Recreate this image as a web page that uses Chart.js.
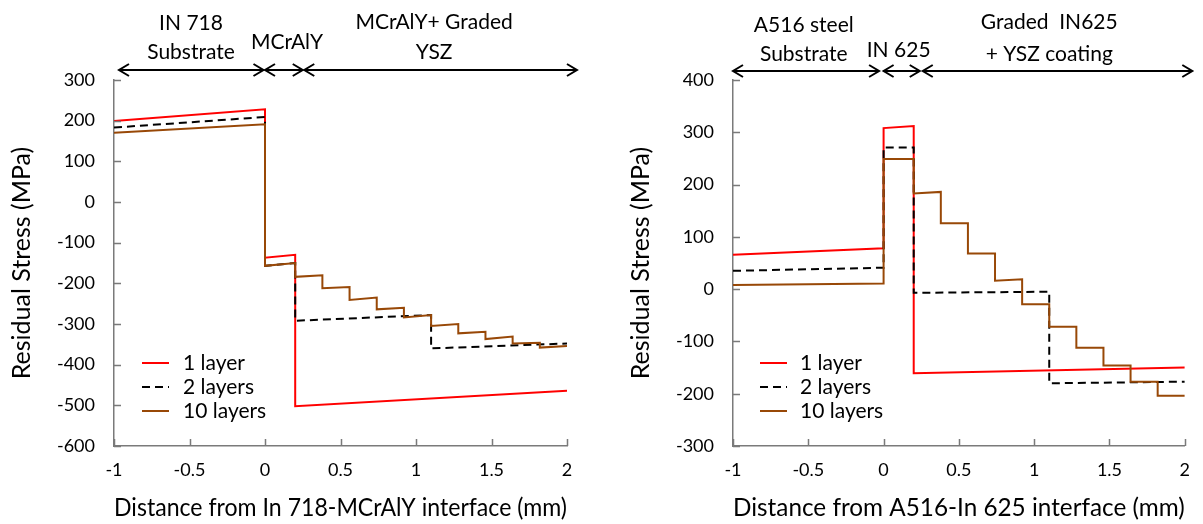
<!DOCTYPE html>
<html>
<head>
<meta charset="utf-8">
<script src="https://cdn.jsdelivr.net/npm/chart.js@4.4.1/dist/chart.umd.min.js"></script>
<style>
  body { margin: 0; background: #fff; }
  #wrap { position: relative; width: 1203px; height: 524px; }
  canvas { position: absolute; top: 0; }
</style>
</head>
<body>
<div id="wrap">
  <canvas id="left" width="600" height="524" style="left:0"></canvas>
  <canvas id="right" width="603" height="524" style="left:600px"></canvas>
</div>
<script>
// ---- data ----
const seriesNames = ['1 layer', '2 layers', '10 layers'];
const xTicks = [-1, -0.5, 0, 0.5, 1, 1.5, 2];
const leftYTicks = [-600, -500, -400, -300, -200, -100, 0, 100, 200, 300];
const rightYTicks = [-300, -200, -100, 0, 100, 200, 300, 400];

// IN 718 / MCrAlY / graded YSZ
const left1X = [-1, 0, 0, 0.2, 0.2, 2];
const left1Y = [199, 228, -137, -130, -502, -464];
const left2X = [-1, 0, 0, 0.2, 0.2, 1.1, 1.1, 2];
const left2Y = [183, 209, -157, -150, -292, -278, -360, -348];
const left10X = [-1, 0, 0, 0.2, 0.2, 0.38, 0.38, 0.56, 0.56, 0.74, 0.74, 0.92, 0.92, 1.1, 1.1, 1.28, 1.28, 1.46, 1.46, 1.64, 1.64, 1.82, 1.82, 2];
const left10Y = [170, 191, -157, -150, -184, -180, -212, -209, -241, -235, -264, -260, -284, -278, -305, -300, -323, -319, -337, -331, -348, -346, -358, -354];

// A516 / IN 625 / graded IN625 + YSZ
const right1X = [-1, 0, 0, 0.2, 0.2, 2];
const right1Y = [66, 78, 308, 312, -161, -150];
const right2X = [-1, 0, 0, 0.2, 0.2, 1.1, 1.1, 2];
const right2Y = [35, 41, 271, 271, -7, -5, -180, -177];
const right10X = [-1, 0, 0, 0.2, 0.2, 0.38, 0.38, 0.56, 0.56, 0.74, 0.74, 0.92, 0.92, 1.1, 1.1, 1.28, 1.28, 1.46, 1.46, 1.64, 1.64, 1.82, 1.82, 2];
const right10Y = [8, 11, 249, 249, 183, 186, 126, 126, 68, 68, 16, 19, -29, -29, -72, -72, -112, -112, -146, -146, -177, -177, -204, -204];

const FONT = 'Lato, "Open Sans", sans-serif';
const AXIS = '#7a7a7a';
const styles = [
  { color: '#ff0000', dash: [], order: 2 },
  { color: '#000000', dash: [8, 5], order: 1 },
  { color: '#984807', dash: [], order: 0 }
];

const pts = (xs, ys) => xs.map((v, i) => ({ x: v, y: ys[i] }));

function drawArrow(ctx, x1, x2, y) {
  const h = 10, w = 6;
  ctx.beginPath();
  ctx.moveTo(x1, y); ctx.lineTo(x2, y);
  ctx.moveTo(x1 + h, y - w); ctx.lineTo(x1, y); ctx.lineTo(x1 + h, y + w);
  ctx.moveTo(x2 - h, y - w); ctx.lineTo(x2, y); ctx.lineTo(x2 - h, y + w);
  ctx.stroke();
}

const decor = {
  id: 'decor',
  afterDraw(chart, args, opts) {
    const { ctx, chartArea: a, scales: { x, y } } = chart;
    ctx.save();
    // inside tick marks
    ctx.strokeStyle = AXIS; ctx.lineWidth = 1.5;
    ctx.beginPath();
    y.ticks.forEach(t => { const p = Math.round(y.getPixelForValue(t.value)) + 0.5; ctx.moveTo(a.left, p); ctx.lineTo(a.left + 7, p); });
    x.ticks.forEach(t => { const p = Math.round(x.getPixelForValue(t.value)) + 0.5; ctx.moveTo(p, a.bottom); ctx.lineTo(p, a.bottom - 7); });
    ctx.stroke();

    // region arrows + labels
    ctx.strokeStyle = '#000'; ctx.lineWidth = 2;
    opts.arrows.forEach(r => drawArrow(ctx, x.getPixelForValue(r[0]), x.getPixelForValue(r[1]), opts.arrowY));
    ctx.fillStyle = '#000';
    ctx.font = '21px ' + FONT;
    ctx.textAlign = 'center'; ctx.textBaseline = 'middle';
    opts.labels.forEach(l => ctx.fillText(l.text, x.getPixelForValue(l.x), l.y));

    // legend inside plot
    ctx.font = '21px ' + FONT;
    ctx.textAlign = 'left';
    seriesNames.forEach((name, i) => {
      const yy = opts.legendY + i * 24;
      ctx.strokeStyle = styles[i].color;
      ctx.setLineDash(styles[i].dash);
      ctx.lineWidth = 2;
      ctx.beginPath();
      ctx.moveTo(a.left + opts.legendLine[0], yy);
      ctx.lineTo(a.left + opts.legendLine[1], yy);
      ctx.stroke();
      ctx.setLineDash([]);
      ctx.fillText(name, a.left + opts.legendText, yy);
    });
    ctx.restore();
  }
};

function makeChart(id, sets, cfg) {
  return new Chart(document.getElementById(id), {
    type: 'scatter',
    data: {
      datasets: sets.map((s, i) => ({
        label: seriesNames[i],
        data: pts(s[0], s[1]),
        showLine: true,
        borderColor: styles[i].color,
        borderDash: styles[i].dash,
        borderWidth: 2,
        pointRadius: 0,
        tension: 0,
        order: styles[i].order
      }))
    },
    options: {
      responsive: false,
      animation: false,
      layout: { padding: { top: 80, right: cfg.padRight, left: 0, bottom: 0 } },
      plugins: {
        legend: { display: false },
        tooltip: { enabled: false },
        decor: cfg.decor
      },
      scales: {
        x: {
          type: 'linear', min: -1, max: 2,
          afterBuildTicks: s => { s.ticks = xTicks.map(v => ({ value: v })); },
          afterFit: s => { s.height = 78; },
          grid: { display: false, drawTicks: false },
          border: { display: true, color: AXIS, width: 1.5 },
          ticks: { color: '#000', padding: 13, font: { family: FONT, size: 18 }, callback: v => String(v) },
          title: { display: true, text: cfg.xTitle, color: '#000', padding: { top: 0, bottom: 1 }, font: { family: FONT, size: 25 } }
        },
        y: {
          type: 'linear', min: cfg.yTicks[0], max: cfg.yTicks[cfg.yTicks.length - 1],
          afterBuildTicks: s => { s.ticks = cfg.yTicks.map(v => ({ value: v })); },
          afterFit: s => { s.width = cfg.yWidth; },
          grid: { display: false, drawTicks: false },
          border: { display: true, color: AXIS, width: 1.5 },
          ticks: { color: '#000', padding: 19, font: { family: FONT, size: 18 }, callback: v => String(v) },
          title: { display: true, text: 'Residual Stress (MPa)', color: '#000', padding: { top: cfg.yTitlePad, bottom: 0 }, font: { family: FONT, size: 25 } }
        }
      }
    },
    plugins: [decor]
  });
}

makeChart('left', [[left1X, left1Y], [left2X, left2Y], [left10X, left10Y]], {
  padRight: 33, yWidth: 114, yTitlePad: 7, yTicks: leftYTicks,
  xTitle: 'Distance from In 718-MCrAlY interface (mm)',
  decor: {
    arrowY: 70,
    arrows: [[-0.967, -0.01], [0, 0.25], [0.26, 2.066]],
    labels: [
      { text: 'IN 718', x: -0.49, y: 23 }, { text: 'Substrate', x: -0.49, y: 52 },
      { text: 'MCrAlY', x: 0.146, y: 42 },
      { text: 'MCrAlY+ Graded', x: 1.12, y: 22 }, { text: 'YSZ', x: 1.12, y: 52 }
    ],
    legendY: 363, legendLine: [28, 55], legendText: 69
  }
});

makeChart('right', [[right1X, right1Y], [right2X, right2Y], [right10X, right10Y]], {
  padRight: 17, yWidth: 133, yTitlePad: 26, yTicks: rightYTicks,
  xTitle: 'Distance from A516-In 625 interface (mm)',
  decor: {
    arrowY: 71,
    arrows: [[-1.0, -0.03], [0, 0.24], [0.26, 2.05]],
    labels: [
      { text: 'A516 steel', x: -0.53, y: 25 }, { text: 'Substrate', x: -0.53, y: 54 },
      { text: 'IN 625', x: 0.1, y: 50 },
      { text: 'Graded  IN625', x: 1.1, y: 22 }, { text: '+ YSZ coating', x: 1.1, y: 54 }
    ],
    legendY: 363, legendLine: [27, 54], legendText: 67
  }
});
</script>
</body>
</html>
